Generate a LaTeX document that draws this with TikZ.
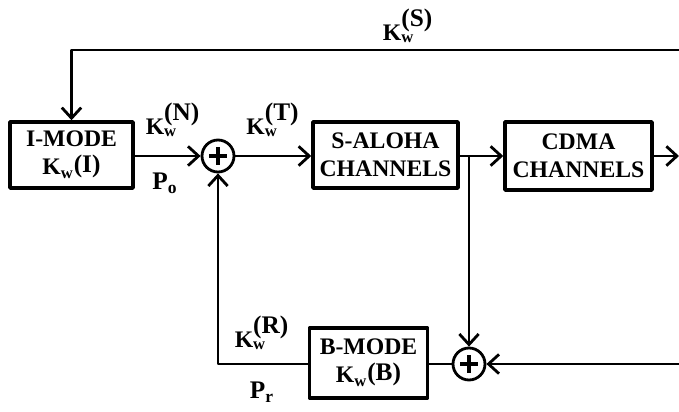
\documentclass[tikz,border=0pt]{standalone}
\usepackage{fontspec}
\setmainfont{Liberation Serif}
\usetikzlibrary{arrows.meta}
\newcommand{\kw}[1]{$\mathbf{K}_{\mathbf{w}}^{\mbox{\bfseries\Large #1}}$}
\newcommand{\kwbox}[1]{K$_{\mathbf{w}}$\raisebox{1.5pt}{\Large #1}}
\begin{document}
\begin{tikzpicture}[x=0.02cm, y=-0.02cm, font=\fontsize{13.5}{15}\selectfont, line join=round, line width=1.6pt, >={Straight Barb[length=6pt,width=11pt]},
	blk/.style={draw, line width=2pt, align=center, minimum height=1.32cm, inner sep=2pt, font=\fontsize{13.5}{16}\selectfont\bfseries},
	sumnode/.style={draw, circle, minimum size=0.64cm, inner sep=0pt,
		path picture={\draw[line width=2pt] ([xshift=-5pt]path picture bounding box.center) -- ([xshift=5pt]path picture bounding box.center)
			([yshift=-5pt]path picture bounding box.center) -- ([yshift=5pt]path picture bounding box.center);}}]
	\useasboundingbox (0,0) rectangle (679,412);
	% blocks
	\node[blk, minimum width=2.46cm] (imode) at (71.5,155) {I-MODE\\ \kwbox{(I)}};
	\node[sumnode] (sumA) at (218,156) {};
	\node[blk, minimum width=2.9cm] (aloha) at (385.5,155) {S-ALOHA\\ CHANNELS};
	\node[blk, minimum width=2.94cm, minimum height=1.36cm] (cdma) at (578.5,156) {CDMA\\ CHANNELS};
	\node[sumnode] (sumB) at (469,364) {};
	\node[blk, minimum width=2.36cm, minimum height=1.4cm] (bmode) at (368.5,363) {B-MODE\\ \kwbox{(B)}};
	\coordinate (top) at (679,50);
	\coordinate (outC) at (679,156);
	\coordinate (inB) at (679,364);
	\coordinate (br) at (469,156);
	% connectors
	\draw[->] (top) -- (imode.north |- top) -- (imode.north);
	\draw[->] (imode.east |- sumA) -- (sumA);
	\draw[->] (sumA) -- (aloha.west |- sumA);
	\draw[->] (aloha.east |- br) -- (cdma.west |- br);
	\draw[->] (cdma) -- (outC);
	\draw[->] (br) -- (sumB);
	\draw[->] (inB) -- (sumB);
	\draw (sumB) -- (bmode.east |- sumB);
	\draw[->] (bmode.west |- sumB) -- (sumA |- sumB) -- (sumA);
	% labels
	\node (lS) at (408,26) {\kw{(S)}};
	\node (lN) at (173,120) {\kw{(N)}};
	\node (lT) at (273,120) {\kw{(T)}};
	\node (lR) at (262,333) {\kw{(R)}};
	\node (lPo) at (165,183) {\Large$\mathbf{P}_{\mathbf{o}}$};
	\node (lPr) at (262,392) {\Large$\mathbf{P}_{\mathbf{r}}$};
\end{tikzpicture}
\end{document}
